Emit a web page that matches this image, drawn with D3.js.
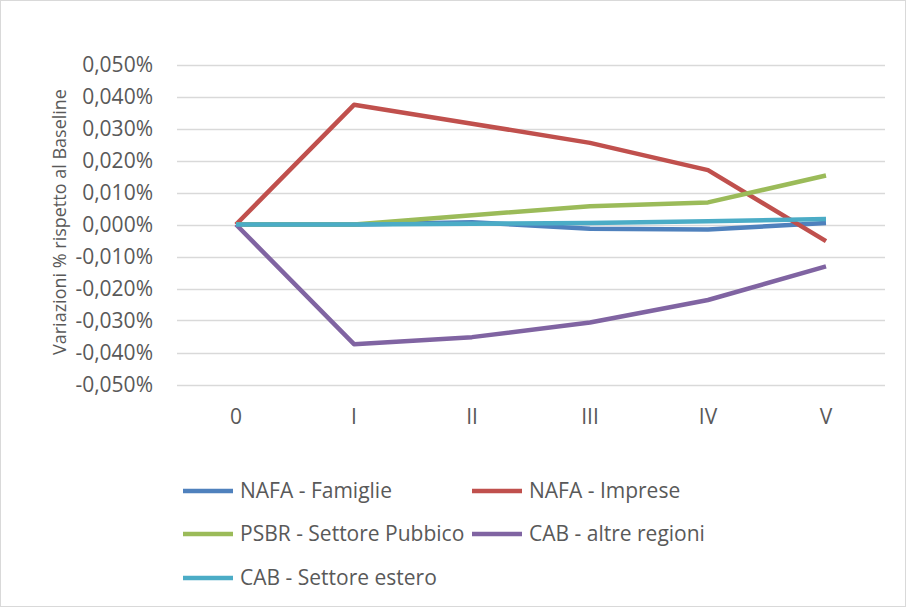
<!DOCTYPE html>
<html><head><meta charset="utf-8">
<script src="https://cdn.jsdelivr.net/npm/d3@7"></script>
<style>body{margin:0;background:#fff}svg{display:block}text{font-family:"Open Sans","Noto Sans",sans-serif;fill:#595959}</style>
</head><body>
<script>
const categories = ["0","I","II","III","IV","V"];
const seriesNames = ["NAFA - Famiglie","NAFA - Imprese","PSBR - Settore Pubbico","CAB - altre regioni","CAB - Settore estero"];
const famiglie = [0, 0, 0.0007, -0.0013, -0.0016, 0.0005];
const imprese = [0, 0.0374, 0.0315, 0.0255, 0.0170, -0.0052];
const psbr = [0, 0, 0.0029, 0.0057, 0.0069, 0.0153];
const altreRegioni = [0, -0.0374, -0.0352, -0.0306, -0.0236, -0.0131];
const estero = [0, 0, 0.0002, 0.0005, 0.0010, 0.0017];
const yTicks = [-0.05,-0.04,-0.03,-0.02,-0.01,0,0.01,0.02,0.03,0.04,0.05];
const colors = ["#4F81BD","#C0504D","#9BBB59","#8064A2","#4BACC6"];
const seriesValues = [famiglie, imprese, psbr, altreRegioni, estero];

const W = 908, H = 609;
const svg = d3.select("body").append("svg").attr("width", W).attr("height", H);
svg.append("rect").attr("x",0.5).attr("y",0.5).attr("width",W-3).attr("height",H-3)
  .attr("fill","#fff").attr("stroke","#D9D9D9");

const x = d3.scaleBand().domain(categories).range([177, 885]);
const y = d3.scaleLinear().domain([-0.05, 0.05]).range([384.5, 64.5]);

const fmt = v => (v.toFixed(3).replace(".", ",") + "%").replace("-0,000","0,000");

svg.append("g").selectAll("line").data(yTicks).join("line")
  .attr("x1",177).attr("x2",885).attr("y1",d=>Math.round(y(d))+0.5).attr("y2",d=>Math.round(y(d))+0.5)
  .attr("stroke","#D9D9D9").attr("stroke-width",1.3);

const yAxis = svg.append("g").attr("transform","translate(177,0)")
  .call(d3.axisLeft(y).tickValues(yTicks).tickFormat(fmt).tickSize(0).tickPadding(24));
yAxis.select(".domain").remove();
yAxis.selectAll("text").attr("font-size",21).style("font-family","'Open Sans',sans-serif").attr("fill","#595959");

const xAxis = svg.append("g").attr("transform","translate(0,405)")
  .call(d3.axisBottom(x).tickSize(0).tickPadding(4));
xAxis.select(".domain").remove();
xAxis.selectAll("text").attr("font-size",21).style("font-family","'Open Sans',sans-serif").attr("fill","#595959");

svg.append("text").attr("transform","translate(66,222) rotate(-90)")
  .attr("text-anchor","middle").attr("font-size",18).text("Variazioni % rispetto al Baseline");

const line = d3.line().x((d,i)=>x(categories[i]) + x.bandwidth()/2).y(d=>y(d));
seriesValues.forEach((vals,i)=>{
  svg.append("path").datum(vals).attr("d",line).attr("fill","none")
    .attr("stroke",colors[i]).attr("stroke-width",4.5).attr("stroke-linejoin","round");
});

const legendPos = [[183,491],[472,491],[183,534],[472,534],[183,578]];
seriesNames.forEach((n,i)=>{
  const [lx,ly] = legendPos[i];
  svg.append("line").attr("x1",lx).attr("x2",lx+50).attr("y1",ly).attr("y2",ly)
    .attr("stroke",colors[i]).attr("stroke-width",4.5);
  svg.append("text").attr("x",lx+57).attr("y",ly).attr("dy","0.35em")
    .attr("font-size",21).text(n);
});
</script>
</body></html>
